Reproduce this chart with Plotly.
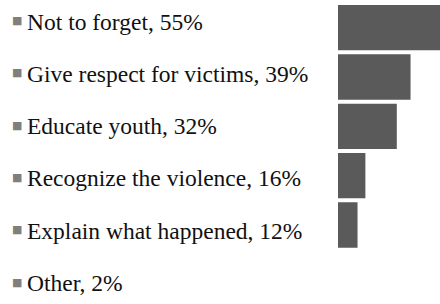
import plotly.graph_objects as go

categories = ["Not to forget", "Give respect for victims", "Educate youth",
              "Recognize the violence", "Explain what happened", "Other"]
values = [55, 39, 32, 16, 12, 2]

W, H = 440, 304
SERIF = "Liberation Serif"
fig = go.Figure()
fig.add_trace(go.Bar(
    x=values, y=list(range(len(categories))), orientation="h",
    marker=dict(color="#5a5a5a", line=dict(width=0)),
    hoverinfo="skip",
))

label_top = 20.5
label_step = 52.3
annotations = []
for i, (c, v) in enumerate(zip(categories, values)):
    yc = label_top + label_step * i
    annotations.append(dict(
        x=10 / W, y=1 - (yc + 0.0) / H, xref="paper", yref="paper",
        xanchor="left", yanchor="middle", showarrow=False,
        text="■", font=dict(family="DejaVu Sans", size=11, color="#7f7f7f"),
    ))
    annotations.append(dict(
        x=25 / W, y=1 - (yc + 1.0) / H, xref="paper", yref="paper",
        xanchor="left", yanchor="middle", showarrow=False,
        text=f"{c}, {v}%",
        font=dict(family=SERIF, size=23.5, color="#111111"),
    ))

fig.update_layout(
    width=W, height=H,
    margin=dict(l=0, r=0, t=0, b=0),
    paper_bgcolor="white", plot_bgcolor="white",
    font=dict(family=SERIF),
    showlegend=False, bargap=0.08,
    xaxis=dict(domain=[338 / W, 1], range=[2.05, 54.0], visible=False, fixedrange=True),
    yaxis=dict(domain=[5 / H, 301 / H], range=[5.5, -0.5], visible=False, fixedrange=True),
    annotations=annotations,
)
fig.write_html("out.html", config={"displayModeBar": False},
               post_script="document.body.style.margin='0';document.body.style.overflow='hidden';")
